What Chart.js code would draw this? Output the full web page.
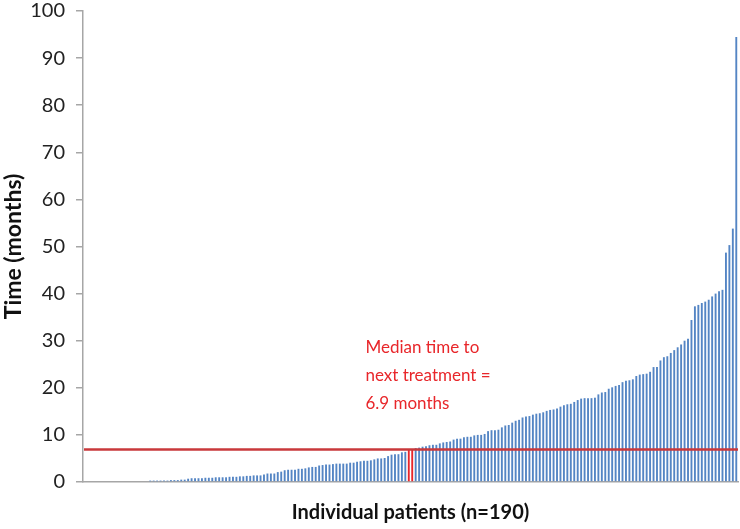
<!DOCTYPE html>
<html>
<head>
<meta charset="utf-8">
<script src="https://cdn.jsdelivr.net/npm/chart.js@4.4.1/dist/chart.umd.min.js"></script>
<style>
  html, body { margin: 0; padding: 0; background: #fff; }
  #wrap { width: 740px; height: 529px; position: relative; }
</style>
</head>
<body>
<div id="wrap"><canvas id="chart"></canvas></div>
<script>
// time to next treatment per patient, sorted ascending (months)
const ttnt = [
  0,0,0,0,0,0,0,0,0,0,0,0,0,0,0,0,0,0,0,
  0.3,0.3,0.3,0.3,0.3,0.3,0.4,0.4,0.4,
  0.5,0.5,
  0.7,0.8,0.8,0.8,0.8,0.9,0.9,0.9,
  1.0,1.0,1.0,1.0,1.1,1.1,
  1.1,1.2,1.2,1.3,1.3,1.4,1.4,1.4,
  1.6,1.8,1.8,1.8,
  2.1,2.2,
  2.5,2.6,2.6,2.6,
  2.8,2.8,2.9,
  3.1,3.2,3.2,
  3.5,3.6,3.7,3.7,
  3.8,3.9,3.9,3.9,3.9,
  4.1,4.1,
  4.3,4.4,4.5,4.5,4.6,
  4.8,5.0,5.0,5.1,
  5.5,5.8,5.9,5.9,
  6.3,6.4,
  6.9,6.9,
  7.2,7.3,7.5,7.6,
  7.8,7.9,7.9,
  8.2,8.4,8.5,8.6,
  9.0,9.2,9.2,
  9.5,9.6,9.6,
  9.9,10.0,10.0,10.2,
  10.8,11.0,11.0,11.1,
  11.6,12.0,12.1,
  12.6,13.0,13.2,
  13.7,13.9,14.0,
  14.3,14.5,14.6,14.8,
  15.1,15.3,15.4,15.6,
  16.0,16.3,16.5,16.6,
  17.0,17.4,17.7,
  17.8,17.8,17.8,17.9,
  18.6,19.0,19.1,
  19.8,20.1,20.4,20.6,
  21.2,21.5,21.6,21.8,
  22.5,22.8,22.9,23.0,23.4,
  24.4,24.4,
  25.8,26.5,26.7,
  27.4,28.0,28.6,
  29.2,30.0,30.4,
  34.4,
  37.3,37.6,38.0,38.3,38.7,
  39.4,40.0,40.5,
  40.8,
  48.7,
  50.3,
  53.8,
  94.5
];
const patients = ttnt.map((v, i) => String(i + 1));
const medianValue = 6.9;
const medianBars = [94, 95]; // the two middle patients
const medianNote = ['Median time to', 'next treatment =', '6.9 months'];
const yTicks = [0, 10, 20, 30, 40, 50, 60, 70, 80, 90, 100];

const BLUE = '#5485c4';
const RED = '#e8262a';
const LINE_RED = '#c9383b';

const barColors = ttnt.map((v, i) => medianBars.includes(i) ? RED : BLUE);

// horizontal median line + text note
const medianPlugin = {
  id: 'medianLine',
  afterDatasetsDraw(chart){
    const { ctx, chartArea, scales } = chart;
    const y = scales.y.getPixelForValue(medianValue);
    ctx.save();
    ctx.strokeStyle = LINE_RED;
    ctx.lineWidth = 2.5;
    ctx.beginPath();
    ctx.moveTo(chartArea.left + 1, y);
    ctx.lineTo(chartArea.right, y);
    ctx.stroke();

    ctx.fillStyle = RED;
    ctx.font = '17px Lato';
    ctx.textBaseline = 'middle';
    ctx.textAlign = 'left';
    const x0 = scales.x.getPixelForValue(82) - 2;
    const y0 = scales.y.getPixelForValue(28.5);
    medianNote.forEach((t, k) => ctx.fillText(t, x0, y0 + k * 28));
    ctx.restore();
  }
};

new Chart(document.getElementById('chart'), {
  type: 'bar',
  data: {
    labels: patients,
    datasets: [{
      data: ttnt,
      backgroundColor: barColors,
      borderWidth: 0,
      barPercentage: 0.55,
      categoryPercentage: 1.0
    }]
  },
  options: {
    responsive: true,
    maintainAspectRatio: false,
    animation: false,
    layout: { padding: { top: 11, right: 2, left: 0, bottom: 0 } },
    plugins: { legend: { display: false }, tooltip: { enabled: false } },
    scales: {
      x: {
        grid: { display: false },
        border: { display: true, color: '#a6a6a6', width: 1.5 },
        ticks: { display: false },
        title: {
          display: true,
          text: 'Individual patients (n=190)',
          color: '#111',
          font: { family: 'Lato', size: 20, weight: 'bold' },
          padding: { top: 4, bottom: 4 }
        },
        afterFit(scale){ scale.height = 47; }
      },
      y: {
        min: 0,
        max: 100,
        afterBuildTicks(scale){ scale.ticks = yTicks.map(v => ({ value: v })); },
        grid: { drawOnChartArea: false, drawTicks: true, tickLength: 7, color: '#a6a6a6', lineWidth: 1.5 },
        border: { display: true, color: '#a6a6a6', width: 1.5 },
        ticks: {
          color: '#222',
          padding: 11,
          font: { family: 'Lato', size: 20 }
        },
        title: {
          display: true,
          text: 'Time (months)',
          color: '#111',
          font: { family: 'Lato', size: 23, weight: 'bold' },
          padding: { top: 0, bottom: 0 }
        },
        afterFit(scale){
          scale.width = 83;
          scale.paddingTop = 0;
          scale.paddingBottom = 0;
        }
      }
    }
  },
  plugins: [medianPlugin]
});
</script>
</body>
</html>
